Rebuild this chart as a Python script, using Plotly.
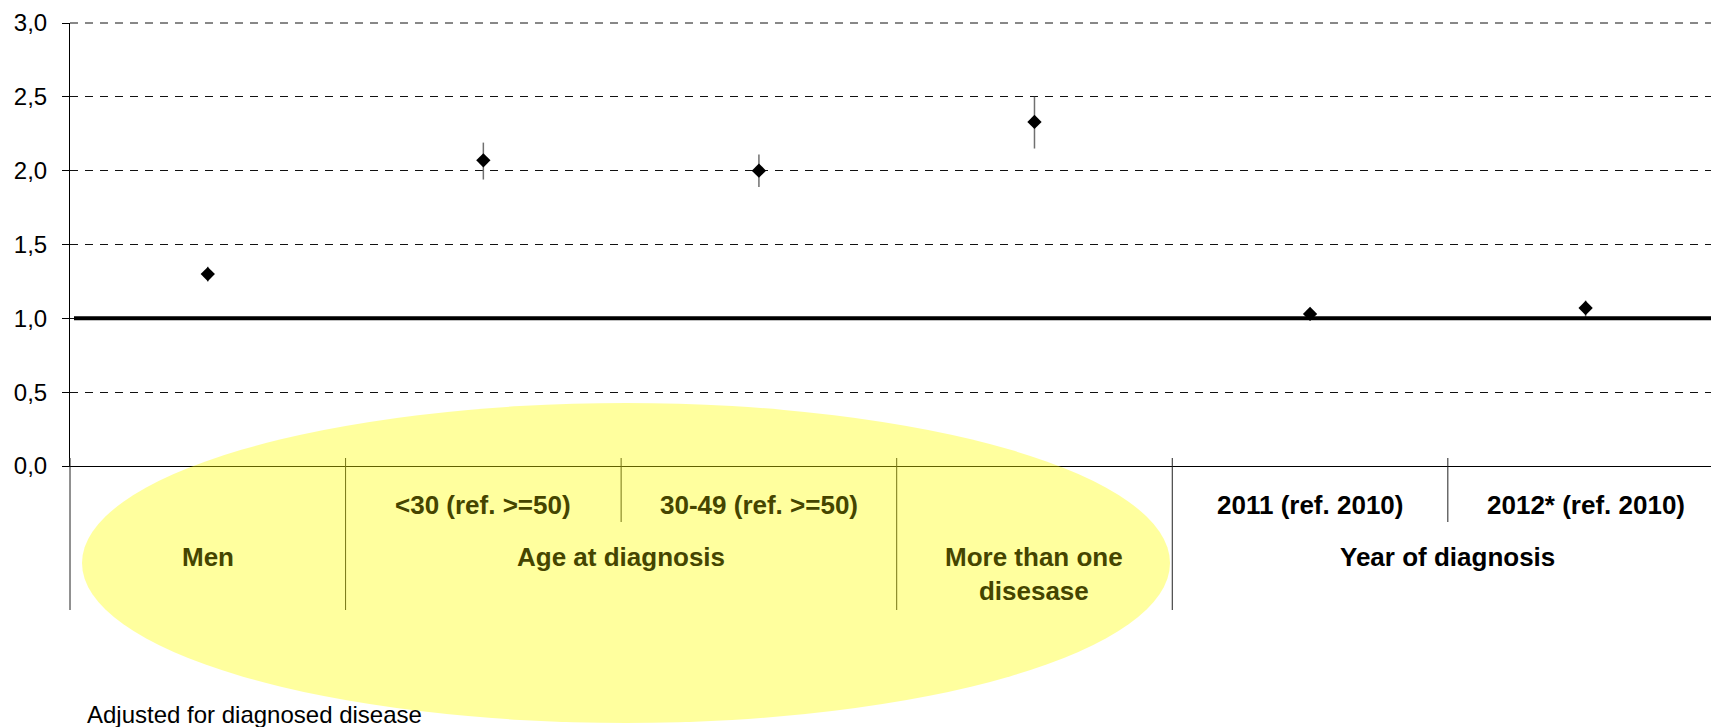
import plotly.graph_objects as go

# ---- data -------------------------------------------------------------
sub_labels = ["", "<30 (ref. >=50)", "30-49 (ref. >=50)", "",
              "2011 (ref. 2010)", "2012* (ref. 2010)"]
group_labels = ["Men", "Age at diagnosis", "More than one<br>disesase", "Year of diagnosis"]
group_members = [[0], [1, 2], [3], [4, 5]]
odds_ratio = [1.30, 2.07, 2.00, 2.33, 1.03, 1.07]
ci_low = [1.25, 1.94, 1.89, 2.15, 0.99, 1.01]
ci_high = [1.35, 2.19, 2.11, 2.50, 1.07, 1.12]
y_ticks = [0.0, 0.5, 1.0, 1.5, 2.0, 2.5, 3.0]
reference_level = 1.0
footnote = "Adjusted for diagnosed disease"

# ---- geometry ---------------------------------------------------------
FIG_W, FIG_H = 1711, 727
M_L, M_T, M_R, M_B = 70, 23, 0, 261
PLOT_W = FIG_W - M_L - M_R
PLOT_H = FIG_H - M_T - M_B
X_MIN, X_MAX = -0.5, 5.455
Y_MIN, Y_MAX = 0.0, 3.0

FONT = "Liberation Sans"
TINT_TEXT = "#454500"
GRID_COLOR = "#111"
GRID_DASH = "8px,7px"


def paper_x(px):
    return (px - M_L) / PLOT_W


def paper_y(py):
    return (M_T + PLOT_H - py) / PLOT_H


def data_to_paper_x(v):
    return (v - X_MIN) / (X_MAX - X_MIN)


x_pos = list(range(len(odds_ratio)))
err_plus = [h - v for h, v in zip(ci_high, odds_ratio)]
err_minus = [v - l for l, v in zip(ci_low, odds_ratio)]

fig = go.Figure()
fig.add_trace(go.Scatter(
    x=x_pos, y=odds_ratio, mode="markers",
    marker=dict(symbol="diamond", size=11, color="black"),
    error_y=dict(type="data", symmetric=False, array=err_plus, arrayminus=err_minus,
                 color="#707070", thickness=1.5, width=0),
    showlegend=False, hoverinfo="skip", cliponaxis=False,
))

shapes = []
# gridline along the top edge of the value axis
shapes.append(dict(type="line", xref="paper", yref="paper", x0=0, x1=1, y0=1, y1=1,
                   line=dict(color=GRID_COLOR, width=1, dash=GRID_DASH), layer="below"))

# thick reference line at OR = 1
shapes.append(dict(type="line", xref="paper", yref="y", x0=paper_x(74), x1=1,
                   y0=reference_level, y1=reference_level,
                   line=dict(color="black", width=4), layer="above"))

# category separators below the axis
axis_px = M_T + PLOT_H
for members in group_members:
    edge = members[0] - 0.5
    shapes.append(dict(type="line", xref="paper", yref="paper",
                       x0=data_to_paper_x(edge), x1=data_to_paper_x(edge),
                       y0=paper_y(axis_px - 8), y1=paper_y(610),
                       line=dict(color="#222", width=1), layer="above"))
    for m in members[1:]:
        edge = m - 0.5
        shapes.append(dict(type="line", xref="paper", yref="paper",
                           x0=data_to_paper_x(edge), x1=data_to_paper_x(edge),
                           y0=paper_y(axis_px - 8), y1=paper_y(522),
                           line=dict(color="#222", width=1), layer="above"))

# highlighted region
shapes.append(dict(type="circle", xref="paper", yref="paper",
                   x0=paper_x(82), x1=paper_x(1170), y0=paper_y(723), y1=paper_y(403),
                   fillcolor="rgba(255,255,0,0.38)", line=dict(width=0), layer="above"))

annotations = []
inside = {0, 1, 2, 3}
for i, lab in enumerate(sub_labels):
    if not lab:
        continue
    annotations.append(dict(
        x=i, xref="x", y=paper_y(488), yref="paper", yanchor="top", xanchor="center",
        text=lab, showarrow=False,
        font=dict(family=FONT, size=26, weight="bold",
                  color=TINT_TEXT if i in inside else "black")))
for g, (lab, members) in enumerate(zip(group_labels, group_members)):
    cx = (members[0] + members[-1]) / 2
    annotations.append(dict(
        x=cx, xref="x", y=paper_y(540), yref="paper", yanchor="top", xanchor="center",
        text=lab, showarrow=False,
        font=dict(family=FONT, size=26, weight="bold",
                  color=TINT_TEXT if members[0] in inside else "black")))
annotations.append(dict(
    x=paper_x(85), xref="paper", y=paper_y(715), yref="paper",
    xanchor="left", yanchor="middle", text=footnote, showarrow=False,
    font=dict(family=FONT, size=24, color="black")))

fig.update_layout(
    width=FIG_W, height=FIG_H,
    margin=dict(l=M_L, r=M_R, t=M_T, b=M_B, pad=0),
    paper_bgcolor="white", plot_bgcolor="white",
    separators=",.",
    shapes=shapes, annotations=annotations,
    xaxis=dict(range=[X_MIN, X_MAX], showgrid=False, zeroline=False,
               showline=True, linecolor="black", linewidth=1,
               showticklabels=False, ticks=""),
    yaxis=dict(range=[Y_MIN, Y_MAX], tickvals=y_ticks, tickformat=".1f",
               showgrid=True, gridcolor=GRID_COLOR, gridwidth=1, griddash=GRID_DASH,
               zeroline=False, showline=True, linecolor="black", linewidth=1,
               ticks="outside", ticklen=7, tickcolor="black", tickwidth=1,
               ticklabelstandoff=10,
               tickfont=dict(family=FONT, size=24, color="black")),
)

fig.write_html("out.html")
